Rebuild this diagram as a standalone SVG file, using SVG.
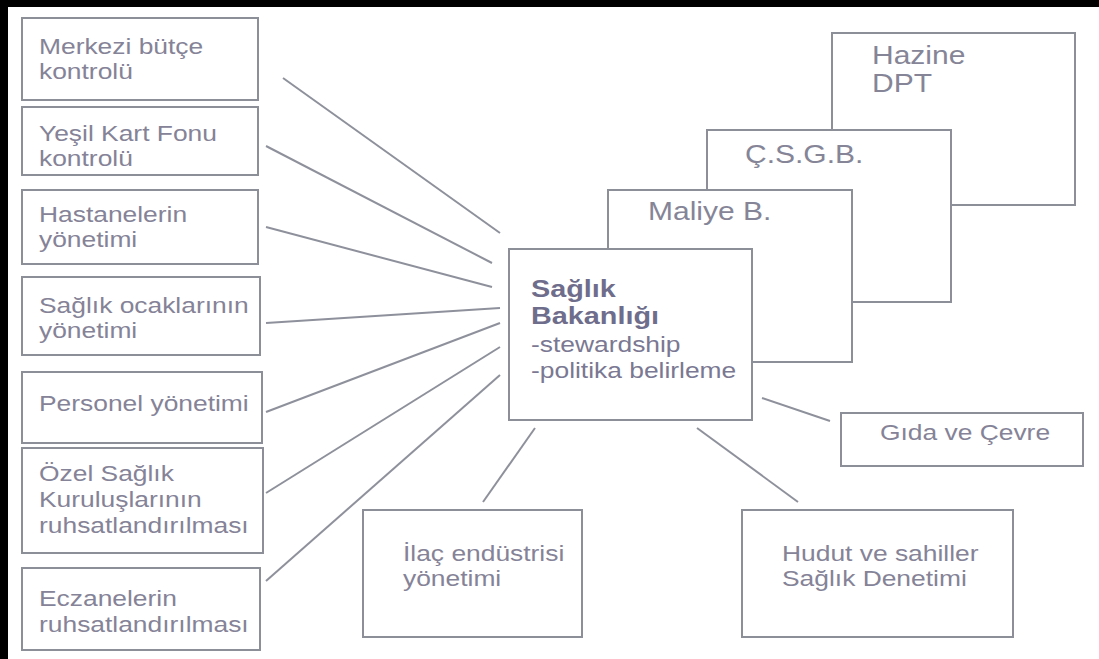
<svg xmlns="http://www.w3.org/2000/svg" width="1099" height="659" viewBox="0 0 1099 659">
<style>
.box{fill:#ffffff;stroke:#8c8f98;stroke-width:2}
.lnk{stroke:#8e919b;stroke-width:2;fill:none}
.t{font-family:"Liberation Sans",Arial,sans-serif;font-size:22px;fill:#858397}
.h{font-family:"Liberation Sans",Arial,sans-serif;font-size:25px;fill:#858597}
.b{font-family:"Liberation Sans",Arial,sans-serif;font-size:24px;font-weight:bold;fill:#6f6d8c}
.c{font-family:"Liberation Sans",Arial,sans-serif;font-size:22px;fill:#7a7892}
</style>
<rect x="0" y="0" width="1099" height="659" fill="#ffffff"/>
<rect x="0" y="0" width="1099" height="7" fill="#000000"/>
<rect x="0" y="0" width="8" height="659" fill="#000000"/>
<g id="connectors">
<line class="lnk" x1="283" y1="78" x2="500" y2="233"/>
<line class="lnk" x1="266" y1="146" x2="492" y2="263"/>
<line class="lnk" x1="266" y1="227" x2="492" y2="287"/>
<line class="lnk" x1="266" y1="323" x2="500" y2="308"/>
<line class="lnk" x1="266" y1="412" x2="500" y2="323"/>
<line class="lnk" x1="266" y1="493" x2="500" y2="347"/>
<line class="lnk" x1="266" y1="581" x2="500" y2="375"/>
<line class="lnk" x1="762" y1="398" x2="830" y2="421"/>
<line class="lnk" x1="535" y1="428" x2="483" y2="502"/>
<line class="lnk" x1="697" y1="428" x2="798" y2="502"/>
</g>
<g id="n-merkezi"><rect class="box" x="22" y="18" width="236" height="82"/>
<text class="t" transform="translate(39,54) scale(1.2 1)"><tspan x="0">Merkezi bütçe</tspan><tspan x="0" dy="25">kontrolü</tspan></text></g>
<g id="n-yesil"><rect class="box" x="22" y="107" width="236" height="68"/>
<text class="t" transform="translate(39,141) scale(1.2 1)"><tspan x="0">Yeşil Kart Fonu</tspan><tspan x="0" dy="25">kontrolü</tspan></text></g>
<g id="n-hastane"><rect class="box" x="22" y="190" width="236" height="74"/>
<text class="t" transform="translate(39,222) scale(1.2 1)"><tspan x="0">Hastanelerin</tspan><tspan x="0" dy="25">yönetimi</tspan></text></g>
<g id="n-ocak"><rect class="box" x="22" y="277" width="238" height="78"/>
<text class="t" transform="translate(39,313) scale(1.2 1)"><tspan x="0">Sağlık ocaklarının</tspan><tspan x="0" dy="25">yönetimi</tspan></text></g>
<g id="n-personel"><rect class="box" x="22" y="372" width="240" height="71"/>
<text class="t" transform="translate(39,411) scale(1.2 1)">Personel yönetimi</text></g>
<g id="n-ozel"><rect class="box" x="22" y="448" width="241" height="105"/>
<text class="t" transform="translate(39,481) scale(1.2 1)"><tspan x="0">Özel Sağlık</tspan><tspan x="0" dy="26">Kuruluşlarının</tspan><tspan x="0" dy="26">ruhsatlandırılması</tspan></text></g>
<g id="n-eczane"><rect class="box" x="22" y="568" width="238" height="82"/>
<text class="t" transform="translate(39,606) scale(1.2 1)"><tspan x="0">Eczanelerin</tspan><tspan x="0" dy="26">ruhsatlandırılması</tspan></text></g>
<g id="n-hazine"><rect class="box" x="832" y="33" width="243" height="172"/>
<text class="h" transform="translate(872,64) scale(1.2 1)"><tspan x="0">Hazine</tspan><tspan x="0" dy="28">DPT</tspan></text></g>
<g id="n-csgb"><rect class="box" x="707" y="130" width="244" height="172"/>
<text class="h" transform="translate(745,163) scale(1.2 1)">Ç.S.G.B.</text></g>
<g id="n-maliye"><rect class="box" x="608" y="190" width="244" height="172"/>
<text class="h" transform="translate(648,220) scale(1.2 1)">Maliye B.</text></g>
<g id="n-saglik"><rect class="box" x="509" y="249" width="243" height="171"/>
<text class="b" transform="translate(531,297) scale(1.2 1)"><tspan x="0">Sağlık</tspan><tspan x="0" dy="27">Bakanlığı</tspan></text>
<text class="c" transform="translate(531,352) scale(1.2 1)"><tspan x="0">-stewardship</tspan><tspan x="0" dy="26">-politika belirleme</tspan></text></g>
<g id="n-gida"><rect class="box" x="841" y="413" width="242" height="53"/>
<text class="t" transform="translate(880,440) scale(1.2 1)">Gıda ve Çevre</text></g>
<g id="n-ilac"><rect class="box" x="363" y="510" width="219" height="127"/>
<text class="t" transform="translate(403,561) scale(1.2 1)"><tspan x="0">İlaç endüstrisi</tspan><tspan x="0" dy="25">yönetimi</tspan></text></g>
<g id="n-hudut"><rect class="box" x="742" y="510" width="271" height="127"/>
<text class="t" transform="translate(782,561) scale(1.2 1)"><tspan x="0">Hudut ve sahiller</tspan><tspan x="0" dy="25">Sağlık Denetimi</tspan></text></g>
</svg>
